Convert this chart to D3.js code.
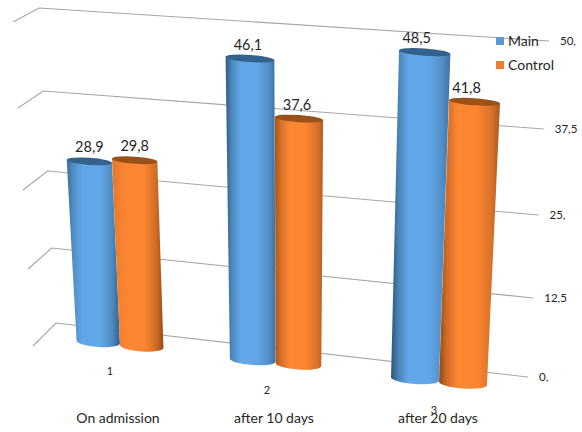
<!DOCTYPE html>
<html>
<head>
<meta charset="utf-8">
<script src="https://cdn.jsdelivr.net/npm/d3@7"></script>
<style>
  html, body { margin: 0; padding: 0; background: #fff; }
  svg { display: block; }
  text { font-family: Lato, "Open Sans", sans-serif; fill: #262626; }
</style>
</head>
<body>
<div id="chart"></div>
<script>
const categories = ["On admission", "after 10 days", "after 20 days"];
const categoryNumbers = ["1", "2", "3"];
const seriesNames = ["Main", "Control"];
const mainValues = [28.9, 46.1, 48.5];
const controlValues = [29.8, 37.6, 41.8];
const axisTicks = [0, 12.5, 25, 37.5, 50];
const axisLabels = ["0,", "12,5", "25,", "37,5", "50,"];

const width = 582, height = 432;
const svg = d3.select("#chart").append("svg")
  .attr("width", width).attr("height", height);
const defs = svg.append("defs");

// Back wall of the 3D plot: each value has a front, corner and right end.
const frontX = d3.scaleLinear().domain([0, 50]).range([33, 13]);
const frontY = d3.scaleLinear().domain(axisTicks).range([346, 269, 190, 108, 22]);
const cornerX = d3.scaleLinear().domain([0, 50]).range([56, 39]);
const cornerY = d3.scaleLinear().domain(axisTicks).range([323, 248, 171, 91, 8]);
const rightX = d3.scaleLinear().domain([0, 50]).range([528, 549]);
const rightY = d3.scaleLinear().domain(axisTicks).range([377, 298, 215, 129, 41]);

const wall = svg.append("g").attr("fill", "none")
  .attr("stroke", "#a6a6a6").attr("stroke-width", 1.1);
wall.selectAll("path").data(axisTicks).join("path")
  .attr("d", v => d3.line()([
    [frontX(v), frontY(v)],
    [cornerX(v), cornerY(v)],
    [rightX(v), rightY(v)]
  ]));

svg.append("g").selectAll("text").data(axisTicks).join("text")
  .attr("x", v => rightX(v) + 11)
  .attr("y", v => rightY(v) + 4)
  .attr("font-size", 11.5)
  .text((v, i) => axisLabels[i]);

// Perspective helpers for the cylinders, indexed by category.
const catIndex = [0, 1, 2];
const catX = d3.scaleLinear().domain(catIndex).range([120, 275.6, 439]);
const catWidth = d3.scaleLinear().domain(catIndex).range([43.5, 45.75, 48]);
const catBase = d3.scaleLinear().domain(catIndex).range([342, 360, 379]);
const catUnit = d3.scaleLinear().domain(catIndex).range([6.25, 6.54, 6.74]);
const labelShift = d3.scaleLinear().domain(catIndex).range([0, -2, -8]);
const lean = v => 0.0016 * v;
const vanishX = 290;
const tilt = 4 * Math.PI / 180;

const palettes = [
  { mid: "#62a8e8", dark: "#2a5479", lid: "#33628c" },
  { mid: "#fd8632", dark: "#8f4a17", lid: "#9a5118" }
];

// Left and right edge shading per category and series.
const edgeShade = [
  [[0.7, 0.85], [0.25, 0.95]],
  [[0.9, 0.65], [0.8, 0.65]],
  [[1, 0.65], [1, 0.75]]
];

function gradient(id, pal, leftAmt, rightAmt) {
  const mix = t => d3.interpolateRgb(pal.mid, pal.dark)(t);
  const g = defs.append("linearGradient").attr("id", id);
  [
    [0, mix(leftAmt)],
    [0.12, mix(leftAmt * 0.45)],
    [0.3, pal.mid],
    [0.62, pal.mid],
    [0.86, mix(rightAmt * 0.45)],
    [1, mix(rightAmt)]
  ].forEach(([o, c]) => g.append("stop").attr("offset", o).attr("stop-color", c));
}

const bars = [];
catIndex.forEach(c => {
  [mainValues, controlValues].forEach((vals, s) => {
    const w0 = catWidth(c);
    const xb = catX(c) + (s === 0 ? -1 : 1) * w0 / 2;
    const v = vals[c];
    bars.push({
      c, s, v, w0, xb,
      yb: catBase(c) + (s === 0 ? 0 : 4.5),
      xt: xb + (xb - vanishX) * lean(v),
      yt: catBase(c) + (s === 0 ? 0 : 4.5) - v * catUnit(c),
      wt: w0 * (1 + 0.0015 * v)
    });
  });
});

const barLayer = svg.append("g");
const deg = tilt * 180 / Math.PI;
bars.forEach((b, i) => {
  const pal = palettes[b.s];
  const id = "shade" + i;
  gradient(id, pal, edgeShade[b.c][b.s][0], edgeShade[b.c][b.s][1]);

  const cos = Math.cos(tilt), sin = Math.sin(tilt);
  const tl = [b.xt - b.wt / 2 * cos, b.yt - b.wt / 2 * sin];
  const tr = [b.xt + b.wt / 2 * cos, b.yt + b.wt / 2 * sin];
  const bl = [b.xb - b.w0 / 2 * cos, b.yb - b.w0 / 2 * sin];
  const br = [b.xb + b.w0 / 2 * cos, b.yb + b.w0 / 2 * sin];

  barLayer.append("path")
    .attr("fill", `url(#${id})`)
    .attr("d", `M${tl}L${bl}A${b.w0 / 2},5 ${deg} 0 0 ${br}L${tr}Z`);
  barLayer.append("ellipse")
    .attr("transform", `translate(${b.xt},${b.yt}) rotate(${deg})`)
    .attr("rx", b.wt / 2).attr("ry", 3.6)
    .attr("fill", pal.lid);
});

// Value labels above the lids, with the decimal comma of the source figures.
svg.append("g").selectAll("text").data(bars).join("text")
  .attr("x", b => b.xt + labelShift(b.c))
  .attr("y", b => b.yt - 9)
  .attr("text-anchor", "middle")
  .attr("font-size", 14.5)
  .text(b => String(b.v).replace(".", ","));

// Category numbers step down along the floor; names sit in a row beneath.
const numberX = d3.scaleLinear().domain(catIndex).range([110, 267, 434]);
const numberY = d3.scaleLinear().domain(catIndex).range([375, 394, 414]);
svg.append("g").selectAll("text").data(categoryNumbers).join("text")
  .attr("x", (d, i) => numberX(i)).attr("y", (d, i) => numberY(i))
  .attr("text-anchor", "middle").attr("font-size", 11).text(d => d);

const nameX = d3.scaleLinear().domain(catIndex).range([118, 274, 438]);
svg.append("g").selectAll("text").data(categories).join("text")
  .attr("x", (d, i) => nameX(i)).attr("y", 423)
  .attr("text-anchor", "middle").attr("font-size", 14).text(d => d);

// Legend
const legendY = d3.scalePoint().domain(seriesNames).range([41, 65]);
const legend = svg.append("g").selectAll("g").data(seriesNames).join("g")
  .attr("transform", d => `translate(496,${legendY(d)})`);
legend.append("rect").attr("y", -4).attr("width", 8).attr("height", 8)
  .attr("fill", (d, i) => i === 0 ? "#5b9bd5" : "#ed7d31");
legend.append("text").attr("x", 12).attr("y", 5)
  .attr("font-size", 14).text(d => d);
</script>
</body>
</html>
